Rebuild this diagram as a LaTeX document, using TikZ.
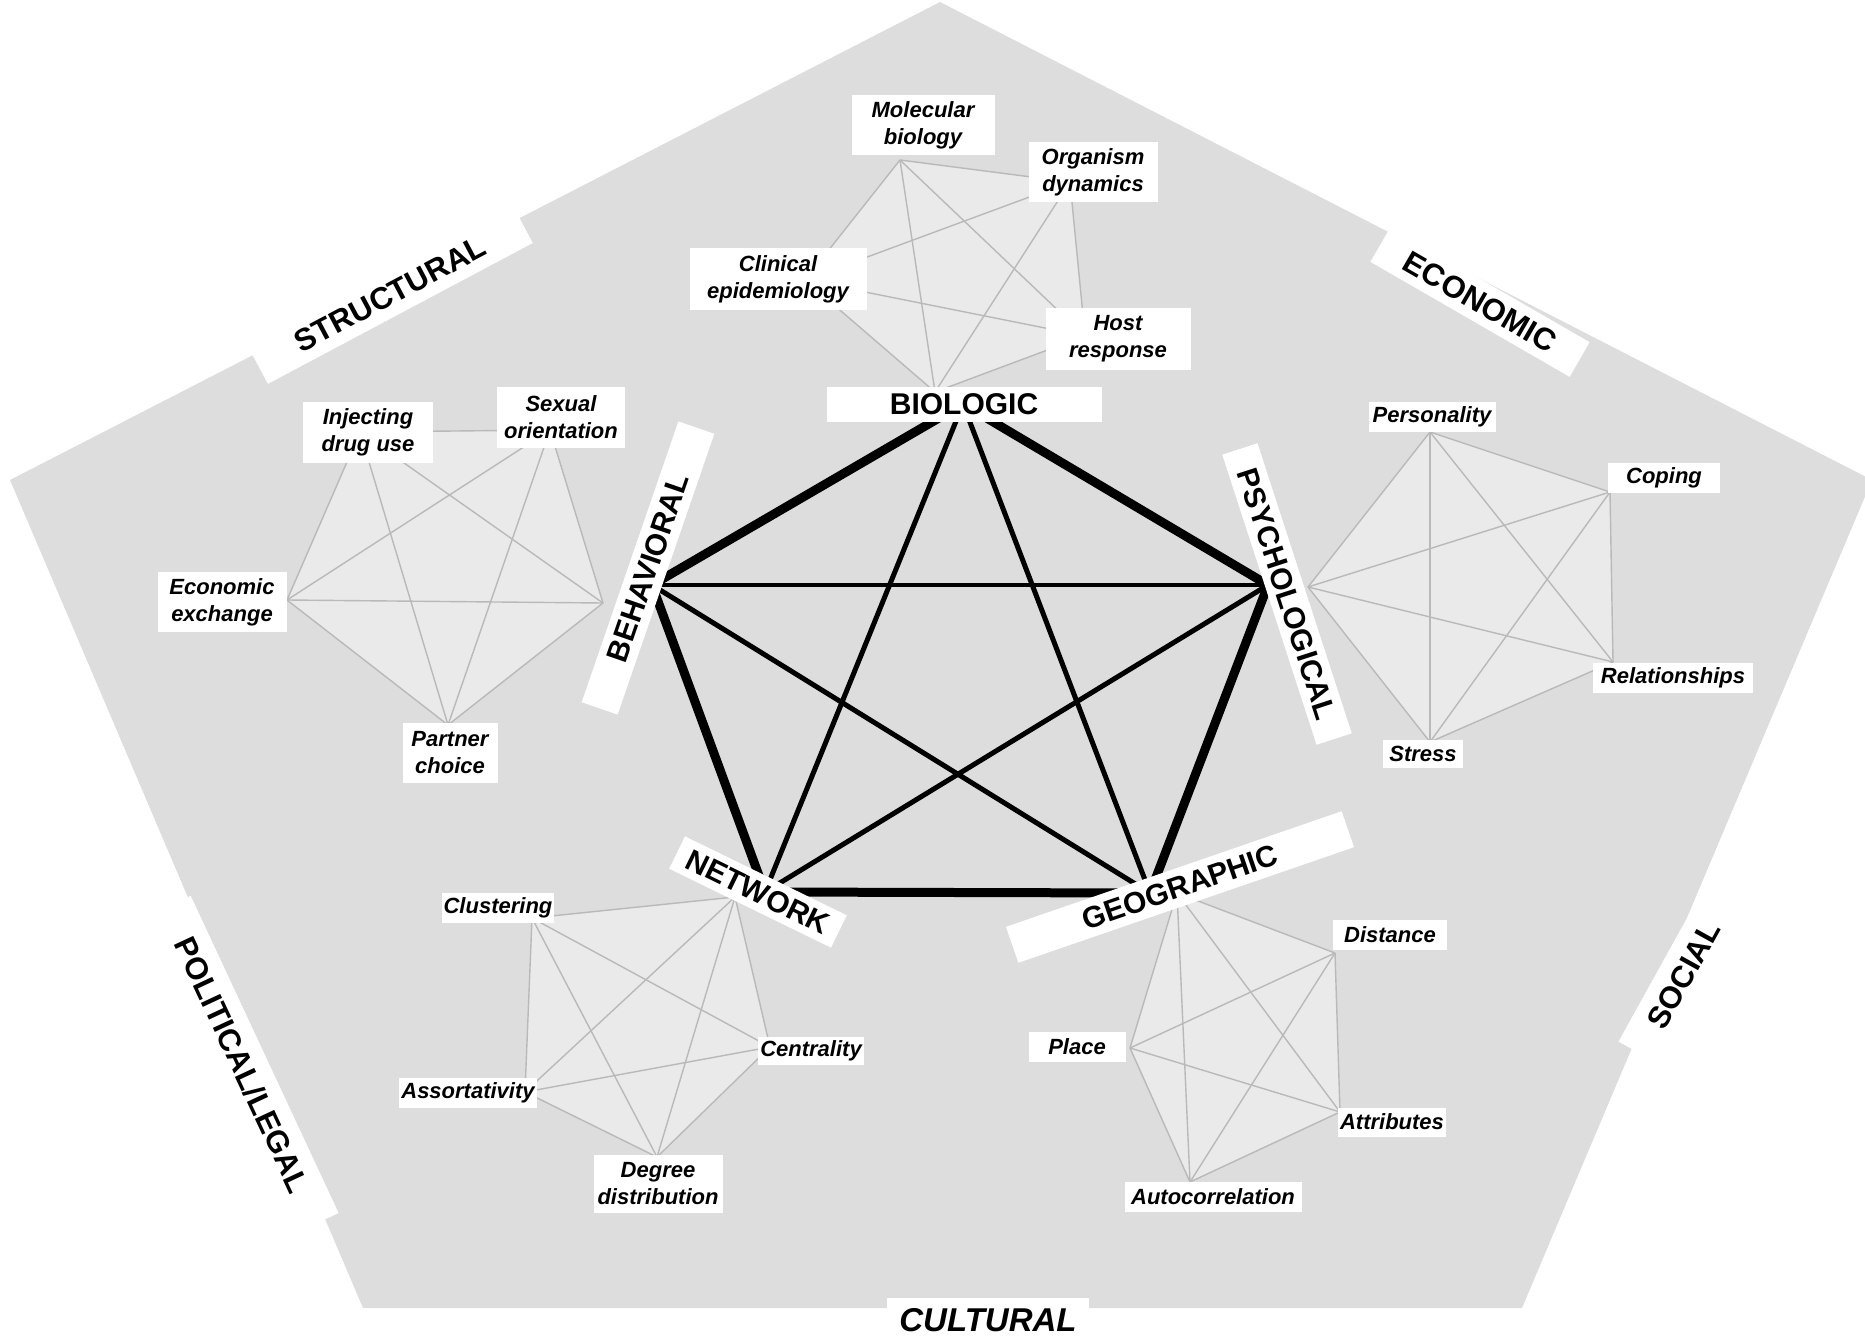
\documentclass[tikz,border=0pt]{standalone}
\usepackage{fontspec}
\setmainfont{Liberation Sans}
\definecolor{outerfill}{RGB}{221,221,221}
\definecolor{subfill}{RGB}{234,234,234}
\definecolor{subline}{RGB}{185,185,185}
\begin{document}
\begin{tikzpicture}[x=1pt,y=-1pt,
  subbox/.style={fill=white, inner sep=2pt, align=center, font=\fontsize{22}{27}\selectfont\bfseries\itshape},
  mainlab/.style={fill=white, inner sep=0pt, font=\fontsize{30}{36}\selectfont\bfseries},
  outerlab/.style={fill=white, inner sep=0pt, font=\fontsize{31}{37}\selectfont\bfseries},
  subedge/.style={draw=subline, line width=1.4pt},
  sidethick/.style={line width=9pt},
  diagthick/.style={line width=5pt},
]
\useasboundingbox (0,0) rectangle (1865,1340);
% outer pentagon
\fill[outerfill] (10,480) -- (940,2) -- (1872,480) -- (1522,1308) -- (363,1308) -- cycle;
% outer labels
\node[outerlab, rotate=28, minimum width=300pt, minimum height=44pt] (STR) at (390,294) {STRUCTURAL};
\node[outerlab, rotate=-30, minimum width=230pt, minimum height=40pt] (ECO) at (1480,302) {ECONOMIC};
\node[outerlab, rotate=61, minimum width=180pt, minimum height=50pt] (SOC) at (1684,975) {SOCIAL};
\node[outerlab, font=\fontsize{33}{38}\selectfont\bfseries\itshape, minimum width=202pt, minimum height=44pt] (CUL) at (988,1320) {CULTURAL};
\node[outerlab, rotate=-65, minimum width=350pt, minimum height=50pt] (POL) at (242,1065) {POLITICAL/LEGAL};

% ---------- biologic cluster
\coordinate (bMB) at (900,160);
\coordinate (bOD) at (1070,182);
\coordinate (bHR) at (1085,336);
\coordinate (bBIO) at (935,392);
\coordinate (bCE) at (805,280);
\fill[subfill] (bMB) -- (bOD) -- (bHR) -- (bBIO) -- (bCE) -- cycle;
\foreach \a/\b in {bMB/bOD,bMB/bHR,bMB/bBIO,bMB/bCE,bOD/bHR,bOD/bBIO,bOD/bCE,bHR/bBIO,bHR/bCE,bBIO/bCE}
  \draw[subedge] (\a) -- (\b);
\node[subbox, minimum width=143pt, minimum height=60pt] (MB) at (923,125) {Molecular\\biology};
\node[subbox, minimum width=129pt, minimum height=60pt] (OD) at (1093,172) {Organism\\dynamics};
\node[subbox, minimum width=177pt, minimum height=62pt] (CE) at (778,279) {Clinical\\epidemiology};
\node[subbox, minimum width=145pt, minimum height=62pt] (HR) at (1118,339) {Host\\response};

% ---------- behavioral cluster
\coordinate (hIDU) at (360,432);
\coordinate (hSO) at (550,430);
\coordinate (hBEH) at (603,603);
\coordinate (hPC) at (448,725);
\coordinate (hEE) at (287,600);
\fill[subfill] (hIDU) -- (hSO) -- (hBEH) -- (hPC) -- (hEE) -- cycle;
\foreach \a/\b in {hIDU/hSO,hIDU/hBEH,hIDU/hPC,hIDU/hEE,hSO/hBEH,hSO/hPC,hSO/hEE,hBEH/hPC,hBEH/hEE,hPC/hEE}
  \draw[subedge] (\a) -- (\b);
\node[subbox, minimum width=130pt, minimum height=61pt] (IDU) at (368,432) {Injecting\\drug use};
\node[subbox, minimum width=128pt, minimum height=61pt] (SO) at (561,417) {Sexual\\orientation};
\node[subbox, minimum width=129pt, minimum height=60pt] (EE) at (222,602) {Economic\\exchange};
\node[subbox, minimum width=95pt, minimum height=60pt] (PC) at (450,753) {Partner\\choice};

% ---------- psychological cluster
\coordinate (pPE) at (1430,432);
\coordinate (pCO) at (1610,492);
\coordinate (pRE) at (1613,662);
\coordinate (pST) at (1430,742);
\coordinate (pPSY) at (1308,587);
\fill[subfill] (pPE) -- (pCO) -- (pRE) -- (pST) -- (pPSY) -- cycle;
\foreach \a/\b in {pPE/pCO,pPE/pRE,pPE/pST,pPE/pPSY,pCO/pRE,pCO/pST,pCO/pPSY,pRE/pST,pRE/pPSY,pST/pPSY}
  \draw[subedge] (\a) -- (\b);
\node[subbox, minimum width=127pt, minimum height=30pt] (PE) at (1432,417) {Personality};
\node[subbox, minimum width=112pt, minimum height=30pt] (CO) at (1664,478) {Coping};
\node[subbox, minimum width=160pt, minimum height=30pt] (RE) at (1673,678) {Relationships};
\node[subbox, minimum width=80pt, minimum height=28pt] (ST) at (1423,754) {Stress};

% ---------- network cluster
\coordinate (nCL) at (532,918);
\coordinate (nNET) at (735,897);
\coordinate (nCE) at (770,1047);
\coordinate (nDD) at (657,1157);
\coordinate (nAS) at (525,1092);
\fill[subfill] (nCL) -- (nNET) -- (nCE) -- (nDD) -- (nAS) -- cycle;
\foreach \a/\b in {nCL/nNET,nCL/nCE,nCL/nDD,nCL/nAS,nNET/nCE,nNET/nDD,nNET/nAS,nCE/nDD,nCE/nAS,nDD/nAS}
  \draw[subedge] (\a) -- (\b);
\node[subbox, minimum width=110pt, minimum height=30pt] (CL) at (498,908) {Clustering};
\node[subbox, minimum width=102pt, minimum height=28pt] (CEN) at (811,1051) {Centrality};
\node[subbox, minimum width=135pt, minimum height=30pt] (AS) at (468,1093) {Assortativity};
\node[subbox, minimum width=129pt, minimum height=58pt] (DD) at (658,1184) {Degree\\distribution};

% ---------- geographic cluster
\coordinate (gGEO) at (1177,893);
\coordinate (gDI) at (1335,953);
\coordinate (gAT) at (1340,1112);
\coordinate (gAU) at (1190,1182);
\coordinate (gPL) at (1130,1048);
\fill[subfill] (gGEO) -- (gDI) -- (gAT) -- (gAU) -- (gPL) -- cycle;
\foreach \a/\b in {gGEO/gDI,gGEO/gAT,gGEO/gAU,gGEO/gPL,gDI/gAT,gDI/gAU,gDI/gPL,gAT/gAU,gAT/gPL,gAU/gPL}
  \draw[subedge] (\a) -- (\b);
\node[subbox, minimum width=114pt, minimum height=30pt] (DI) at (1390,935) {Distance};
\node[subbox, minimum width=97pt, minimum height=30pt] (PL) at (1077,1047) {Place};
\node[subbox, minimum width=107pt, minimum height=29pt] (AT) at (1392,1122) {Attributes};
\node[subbox, minimum width=177pt, minimum height=30pt] (AU) at (1213,1197) {Autocorrelation};

% ---------- central pentagon
\coordinate (cBIO) at (963,404);
\coordinate (cBEH) at (652,585);
\coordinate (cPSY) at (1268,585);
\coordinate (cGEO) at (1150,893);
\coordinate (cNET) at (765,892);
\draw[sidethick] (cBIO) -- (cBEH);
\draw[sidethick] (cBIO) -- (cPSY);
\draw[sidethick] (cPSY) -- (cGEO);
\draw[sidethick] (cGEO) -- (cNET);
\draw[sidethick] (cNET) -- (cBEH);
\draw[diagthick] (cBIO) -- (cGEO);
\draw[diagthick] (cBIO) -- (cNET);
\draw[line width=4pt] (cBEH) -- (cPSY);
\draw[diagthick] (cBEH) -- (cGEO);
\draw[diagthick] (cPSY) -- (cNET);

\node[mainlab, minimum width=275pt, minimum height=35pt] (BIO) at (964,404) {BIOLOGIC};
\node[mainlab, rotate=71, minimum width=297pt, minimum height=38pt] (BEH) at (648,568) {BEHAVIORAL};
\node[mainlab, rotate=-72, minimum width=305pt, minimum height=37pt] (PSY) at (1287,594) {PSYCHOLOGICAL};
\node[mainlab, rotate=19, minimum width=355pt, minimum height=38pt] (GEO) at (1180,887) {GEOGRAPHIC};
\node[mainlab, rotate=-26, minimum width=180pt, minimum height=36pt] (NET) at (758,892) {NETWORK};
\end{tikzpicture}
\end{document}
